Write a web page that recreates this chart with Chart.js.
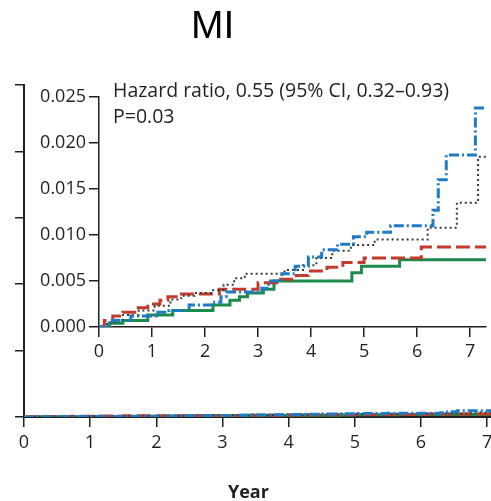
<!DOCTYPE html>
<html>
<head>
<meta charset="utf-8">
<title>MI</title>
<script src="https://cdn.jsdelivr.net/npm/chart.js@4.4.1/dist/chart.umd.min.js"></script>
<style>
  html, body { margin: 0; padding: 0; background: #fff; }
  #wrap { position: relative; width: 491px; height: 501px; overflow: hidden; }
  #wrap canvas { position: absolute; left: 0; top: 0; }
  .txt { position: absolute; white-space: nowrap; color: #231f20; font-family: "Open Sans", sans-serif; }
  #title { left: 191px; top: 5px; font-family: "Liberation Sans", Arial, sans-serif; font-size: 39px; line-height: 39px; color: #000; }
  #stats { left: 113px; top: 77px; font-size: 19.5px; line-height: 26px; }
  #xTitle { left: 228px; top: 479px; font-size: 18px; font-weight: bold; line-height: 24px; }
</style>
</head>
<body>
<div id="wrap">
  <canvas id="fullChart" width="540" height="501"></canvas>
  <canvas id="zoomChart" width="540" height="501"></canvas>
  <div class="txt" id="title">MI</div>
  <div class="txt" id="stats">Hazard ratio, 0.55 (95% CI, 0.32–0.93)<br>P=0.03</div>
  <div class="txt" id="xTitle">Year</div>
</div>
<script>
// tick values
const yearTicks = [0, 1, 2, 3, 4, 5, 6, 7];
const zoomRiskTicks = [0, 0.005, 0.010, 0.015, 0.020, 0.025];
const fullRiskTicks = [0, 0.2, 0.4, 0.6, 0.8, 1.0];

// cumulative incidence, one pair of arrays per curve (event year, value after step)
const greenYears = [0, 0.2, 0.45, 0.92, 1.39, 2.15, 2.47, 2.65, 2.8, 3.1, 3.3, 4.77, 4.95, 5.67, 7.3];
const greenRisk = [0, 0.0004, 0.0007, 0.0013, 0.0018, 0.0024, 0.0029, 0.0033, 0.0037, 0.0041, 0.0050, 0.0059, 0.0066, 0.0073, 0.0073];

const redYears = [0, 0.1, 0.26, 0.45, 0.71, 0.92, 1.15, 1.3, 1.52, 2.27, 3.0, 3.35, 3.72, 3.95, 4.3, 4.6, 5.0, 6.08, 7.3];
const redRisk = [0, 0.0007, 0.0012, 0.0016, 0.0021, 0.0025, 0.0029, 0.0033, 0.0036, 0.0041, 0.0048, 0.0052, 0.0056, 0.0061, 0.0065, 0.0070, 0.0075, 0.0087, 0.0087];

const blueYears = [0, 0.19, 0.25, 0.6, 1.08, 1.32, 1.7, 2.15, 2.3, 2.4, 3.07, 3.2, 3.45, 3.7, 3.95, 4.2, 4.5, 4.8, 5.05, 5.5, 6.3, 6.4, 6.55, 7.1, 7.3];
const blueRisk = [0, 0.0004, 0.0007, 0.0012, 0.0016, 0.0018, 0.0024, 0.0027, 0.0033, 0.0038, 0.0042, 0.0050, 0.0058, 0.0066, 0.0076, 0.0084, 0.0090, 0.0098, 0.0103, 0.0110, 0.0127, 0.0160, 0.0187, 0.0238, 0.0238];

const blackYears = [0, 0.15, 0.3, 0.45, 0.75, 1.05, 1.35, 1.55, 1.8, 2.15, 2.35, 2.55, 2.75, 3.5, 3.85, 4.1, 4.4, 4.75, 5.2, 6.2, 6.75, 7.15, 7.3];
const blackRisk = [0, 0.0005, 0.0008, 0.0013, 0.0018, 0.0023, 0.0030, 0.0034, 0.0037, 0.0040, 0.0046, 0.0053, 0.0058, 0.0062, 0.0067, 0.0075, 0.0083, 0.0089, 0.0095, 0.0108, 0.0135, 0.0185, 0.0185];

const axisColor = '#231f20';
const tickFont = { family: '"Open Sans", sans-serif', size: 18 };

function steps(years, risk) {
    return years.map((t, i) => ({ x: t, y: risk[i] }));
}

function makeDatasets() {
    const common = { stepped: 'before', pointRadius: 0, fill: false, borderCapStyle: 'butt' };
    return [
        { ...common, data: steps(blueYears, blueRisk), borderColor: '#1f7bc4', borderWidth: 3, borderDash: [10, 3, 2, 3] },
        { ...common, data: steps(blackYears, blackRisk), borderColor: '#3a3a3a', borderWidth: 2, borderDash: [2, 3] },
        { ...common, data: steps(redYears, redRisk), borderColor: '#c23b2a', borderWidth: 3, borderDash: [14, 5] },
        { ...common, data: steps(greenYears, greenRisk), borderColor: '#1d8a4b', borderWidth: 3 },
    ];
}

function fixedTicks(values) {
    return scale => { scale.ticks = values.map(v => ({ value: v })); };
}

function axis(extra) {
    return Object.assign({
        type: 'linear',
        grid: { drawOnChartArea: false, drawTicks: true, tickLength: 10, color: axisColor, lineWidth: 1.5 },
        border: { display: true, color: axisColor, width: 2 },
        ticks: { font: tickFont, color: axisColor, maxRotation: 0 },
    }, extra);
}

const baseOptions = {
    responsive: false,
    animation: false,
    events: [],
    plugins: { legend: { display: false }, tooltip: { enabled: false }, title: { display: false } },
};

// full 0-1 scale, curves hug the baseline
new Chart(document.getElementById('fullChart'), {
    type: 'line',
    data: { datasets: makeDatasets() },
    options: {
        ...baseOptions,
        layout: { padding: { top: 85, right: 33, left: 0, bottom: 0 } },
        scales: {
            x: axis({
                min: 0, max: 7.3,
                afterBuildTicks: fixedTicks(yearTicks),
                afterFit: s => { s.height = 84; },
                ticks: { font: tickFont, color: axisColor, padding: 5, maxRotation: 0 },
            }),
            y: axis({
                min: 0, max: 1,
                afterBuildTicks: fixedTicks(fullRiskTicks),
                afterFit: s => { s.width = 24; },
                grid: { drawOnChartArea: false, tickLength: 9, color: axisColor, lineWidth: 1.5 },
                ticks: { display: false },
            }),
        },
    },
});

// zoomed 0-0.025 panel
new Chart(document.getElementById('zoomChart'), {
    type: 'line',
    data: { datasets: makeDatasets() },
    options: {
        ...baseOptions,
        layout: { padding: { top: 97, right: 54, left: 0, bottom: 0 } },
        scales: {
            x: axis({
                min: 0, max: 7.3,
                afterBuildTicks: fixedTicks(yearTicks),
                afterFit: s => { s.height = 174; },
                border: { display: true, color: axisColor, width: 1.5 },
                ticks: { font: tickFont, color: axisColor, padding: 4, maxRotation: 0 },
            }),
            y: axis({
                min: 0, max: 0.025,
                afterBuildTicks: fixedTicks(zoomRiskTicks),
                afterFit: s => { s.width = 99; },
                border: { display: true, color: axisColor, width: 1.5 },
                ticks: { font: tickFont, color: axisColor, padding: 3, callback: v => v.toFixed(3) },
            }),
        },
    },
});
</script>
</body>
</html>
